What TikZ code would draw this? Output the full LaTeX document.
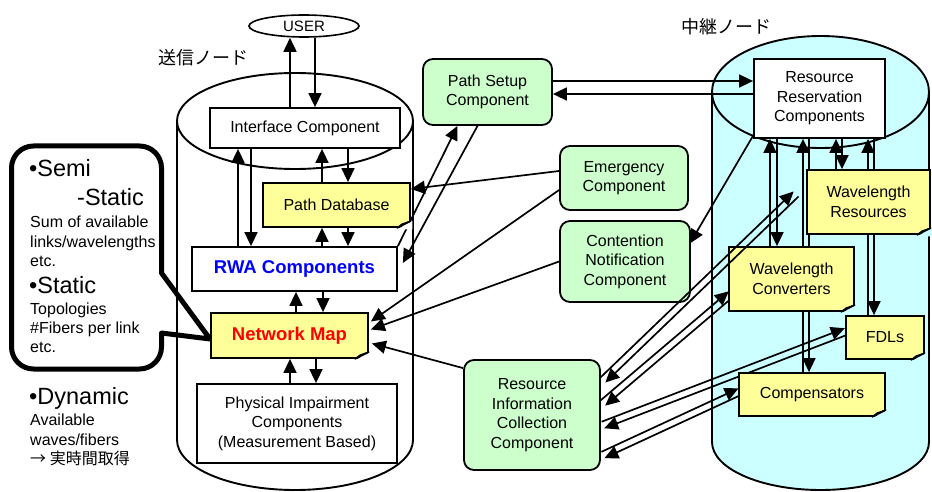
\documentclass[tikz,border=0pt]{standalone}
\usepackage{fontspec}
\setmainfont{Liberation Sans}
\newfontfamily\jpfont{Noto Sans CJK JP}
\usetikzlibrary{arrows.meta,calc,shapes.geometric}
\pgfdeclarelayer{bg}
\pgfsetlayers{bg,main}
\definecolor{gfill}{HTML}{CCFFCC}
\definecolor{yfill}{HTML}{FFFF99}
\definecolor{cfill}{HTML}{CCFFFF}
\definecolor{foldc}{HTML}{CCCC77}
\definecolor{rwablue}{HTML}{0000FF}
\definecolor{nmred}{HTML}{FF0000}
\tikzset{
  box/.style={draw, line width=1.8pt, fill=white, inner sep=0pt, align=center,
    font=\fontsize{16}{19.5}\selectfont},
  gbox/.style={box, fill=gfill, rounded corners=10pt},
  nbox/.style={box, fill=yfill},
  bigbold/.style={font=\fontsize{18.5}{22}\selectfont\bfseries},
  arr/.style={line width=1.7pt, -{Triangle[length=14pt,width=13pt]}},
  cyl/.style={line width=1.9pt},
  small/.style={anchor=base west, inner sep=0pt, font=\fontsize{16}{19}\selectfont},
  big/.style={anchor=base west, inner sep=0pt, font=\fontsize{23.5}{28}\selectfont},
}
\newcommand\notefold[2]{%
  \fill[#2] ([shift={(-14,1.5)}]#1.south east) -- ([shift={(1.5,1.5)}]#1.south east) -- ([shift={(1.5,-7)}]#1.south east) -- cycle;
  \filldraw[fill=foldc, line width=0.9pt, line join=round] ([shift={(-14,0)}]#1.south east) -- ([shift={(0,-7)}]#1.south east) -- ([shift={(-9,-4)}]#1.south east) -- cycle;
  \draw[line width=1.8pt] ([shift={(-14,0)}]#1.south east) -- ([shift={(0,-7)}]#1.south east);
}
\newcommand\biarrow[2]{%
  \draw[arr] ($(#1)!3.5pt!90:(#2)$) -- ($(#2)!3.5pt!-90:(#1)$);
  \draw[arr] ($(#2)!3.5pt!90:(#1)$) -- ($(#1)!3.5pt!-90:(#2)$);
}
\begin{document}
\begin{tikzpicture}[x=1pt,y=-1pt]
\useasboundingbox (0,0) rectangle (932,492);

% ---------- cylinders ----------
\begin{pgfonlayer}{bg}
  \filldraw[cyl, fill=white] (177,121) -- (177,440)
     arc[start angle=180, end angle=360, x radius=118pt, y radius=50pt] -- (413,121);
  \draw[cyl] (295,121) ellipse [x radius=118pt, y radius=48pt];
  \filldraw[cyl, fill=cfill] (712,92) -- (712,442)
     arc[start angle=180, end angle=360, x radius=108.5pt, y radius=48pt] -- (929,92);
  \filldraw[cyl, fill=cfill] (820.5,92) ellipse [x radius=108.5pt, y radius=56pt];
  % callout
  \draw[line width=5pt, line join=round, rounded corners=22pt]
    (86,146) -- (161.5,146) -- (161.5,240) [sharp corners] -- (161.5,273) -- (210,339)
    -- (161.5,333) -- (161.5,345) [rounded corners=22pt] -- (161.5,369) -- (11.5,369)
    -- (11.5,146) -- cycle;
\end{pgfonlayer}

% ---------- titles ----------
\node[font=\jpfont\fontsize{18}{20}\selectfont, inner sep=0pt] (t1) at (203,58) {送信ノード};
\node[font=\jpfont\fontsize{18}{20}\selectfont, inner sep=0pt] (t2) at (726,27) {中継ノード};

% ---------- callout texts ----------
\node[big] (s1) at (29,177) {•Semi};
\node[big] (s2) at (77,205) {-Static};
\node[small] (s3) at (30,227) {Sum of available};
\node[small] (s4) at (30,247) {links/wavelengths};
\node[small] (s5) at (30,266) {etc.};
\node[big] (s6) at (29,293) {•Static};
\node[small] (s7) at (30,314) {Topologies};
\node[small] (s8) at (30,333) {\#Fibers per link};
\node[small] (s9) at (30,352) {etc.};
\node[big] (d1) at (29,404) {•Dynamic};
\node[small] (d2) at (30,425) {Available};
\node[small] (d3) at (30,445) {waves/fibers};
\node[small, font=\jpfont\fontsize{16}{19}\selectfont] (d4) at (30,464) {→ 実時間取得};

% ---------- nodes ----------
\node[draw, ellipse, line width=1.6pt, fill=white, inner sep=0pt, minimum width=110pt,
      minimum height=22pt, font=\fontsize{15}{18}\selectfont] (USER) at (304,26) {USER};
\node[box, minimum width=190pt, minimum height=40pt] (IC) at (305,128) {Interface Component};
\node[nbox, minimum width=147pt, minimum height=44pt] (PDB) at (336.5,205) {Path Database};
\node[box, bigbold, text=rwablue, minimum width=205pt, minimum height=44pt] (RWA) at (294.5,269) {RWA Components};
\node[nbox, bigbold, text=nmred, minimum width=157pt, minimum height=45pt] (NM) at (289.5,335.5) {Network Map};
\node[box, minimum width=200pt, minimum height=79pt] (PHY) at (297,423.5) {Physical Impairment\\Components\\(Measurement Based)};

\node[gbox, minimum width=129pt, minimum height=66pt] (PSC) at (487.5,92) {Path Setup\\Component};
\node[gbox, minimum width=128pt, minimum height=64pt] (EMC) at (624,178) {Emergency\\Component};
\node[gbox, minimum width=130pt, minimum height=81pt] (CNC) at (625,261.5) {Contention\\Notification\\Component};
\node[gbox, minimum width=136pt, minimum height=110pt] (RIC) at (532,415) {Resource\\Information\\Collection\\Component};

\node[box, minimum width=131pt, minimum height=79pt] (RRC) at (819.5,98.5) {Resource\\Reservation\\Components};
\node[nbox, minimum width=123pt, minimum height=64pt] (WR) at (868.5,202) {Wavelength\\Resources};
\node[nbox, minimum width=125pt, minimum height=64pt] (WC) at (791.5,279) {Wavelength\\Converters};
\node[nbox, minimum width=78pt, minimum height=43pt] (FDL) at (885,337.5) {FDLs};
\node[nbox, minimum width=146pt, minimum height=43pt] (CMP) at (812,394.5) {Compensators};

\notefold{PDB}{white}
\notefold{NM}{white}
\notefold{WR}{cfill}
\notefold{WC}{cfill}
\notefold{FDL}{cfill}
\notefold{CMP}{cfill}

% ---------- helper coordinates ----------
\foreach \cx in {238,251,290,296,315,316,322,323,348,770,777,803,809,836,842,868,874}
  {\coordinate (c\cx) at (\cx,0);}
\coordinate (r81) at (0,81);
\coordinate (r94) at (0,94);
\coordinate (p1a) at ([shift={(2,-35)}]RIC.east);
\coordinate (p1b) at ([shift={(-10,-8)}]WR.west);
\coordinate (p2a) at ([shift={(2,-12)}]RIC.east);
\coordinate (p2b) at ([shift={(3,15)}]WC.west);
\coordinate (p3a) at ([shift={(2,10)}]RIC.east);
\coordinate (p3b) at ([shift={(1,-6)}]FDL.west);
\coordinate (p4a) at ([shift={(2,40)}]RIC.east);
\coordinate (p4b) at ([shift={(2,-3)}]CMP.west);

% ---------- connectors ----------
\begin{pgfonlayer}{bg}
  \draw[arr] (IC.north -| c290) -- (USER.south -| c290);
  \draw[arr] (USER.south -| c315) -- (IC.north -| c315);
  \draw[arr] (RWA.north -| c238) -- (IC.south -| c238);
  \draw[arr] (IC.south -| c251) -- (RWA.north -| c251);
  \draw[arr] (PDB.north -| c322) -- (IC.south -| c322);
  \draw[arr] (IC.south -| c348) -- (PDB.north -| c348);
  \draw[arr] (RWA.north -| c322) -- (PDB.south -| c322);
  \draw[arr] (PDB.south -| c348) -- (RWA.north -| c348);
  \draw[arr] (NM.north -| c296) -- (RWA.south -| c296);
  \draw[arr] (RWA.south -| c323) -- (NM.north -| c323);
  \draw[arr] (PHY.north -| c290) -- (NM.south -| c290);
  \draw[arr] (NM.south -| c316) -- (PHY.north -| c316);

  \draw[arr] (WC.north -| c770) -- (RRC.south -| c770);
  \draw[arr] (RRC.south -| c777) -- (WC.north -| c777);
  \draw[arr] (CMP.north -| c803) -- (RRC.south -| c803);
  \draw[arr] (RRC.south -| c809) -- (CMP.north -| c809);
  \draw[arr] (WR.north -| c836) -- (RRC.south -| c836);
  \draw[arr] (RRC.south -| c842) -- (WR.north -| c842);
  \draw[arr] (FDL.north -| c868) -- (RRC.south -| c868);
  \draw[arr] (RRC.south -| c874) -- (FDL.north -| c874);

  \draw[arr] (PSC.east |- r81) -- (RRC.west |- r81);
  \draw[arr] (RRC.west |- r94) -- (PSC.east |- r94);

  \draw[arr] (RWA.north east) -- ([shift={(-30,0)}]PSC.south);
  \draw[arr] ([shift={(-10,0)}]PSC.south) -- ([shift={(5,-6)}]RWA.east);
  \draw[arr] ([shift={(0,-7)}]EMC.west) -- ([shift={(0,-16)}]PDB.east);
  \draw[arr] ([shift={(0,12)}]EMC.west) -- ([shift={(2,-14)}]NM.east);
  \draw[arr] (CNC.west) -- ([shift={(2,-6)}]NM.east);
  \draw[arr] ([shift={(0,9)}]RIC.north west) -- ([shift={(3,8)}]NM.east);
  \draw[arr] ([shift={(4,-10)}]RRC.south west) -- ([shift={(-1,-18)}]CNC.east);

  \biarrow{p2a}{p2b}
  \biarrow{p3a}{p3b}
  \biarrow{p4a}{p4b}
\end{pgfonlayer}
\biarrow{p1a}{p1b}
\end{tikzpicture}
\end{document}
